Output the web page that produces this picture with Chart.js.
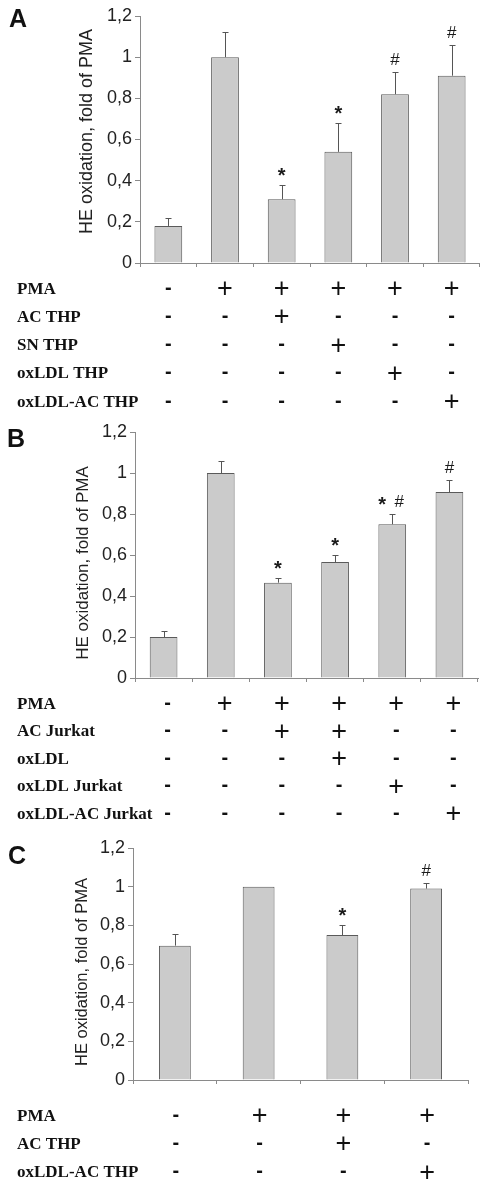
<!DOCTYPE html>
<html>
<head>
<meta charset="utf-8">
<script src="https://cdn.jsdelivr.net/npm/chart.js@4.4.1/dist/chart.umd.min.js"></script>
<style>
  html, body { margin: 0; padding: 0; background: #fff; }
  .panel { position: absolute; left: 0; width: 480px; }
</style>
</head>
<body>
<div class="panel" style="top:0;height:415px"><canvas id="chartA"></canvas></div>
<div class="panel" style="top:415px;height:413px"><canvas id="chartB"></canvas></div>
<div class="panel" style="top:828px;height:356px"><canvas id="chartC"></canvas></div>
<script>
// y ticks shared by all three panels
const yTickLabels = ['0', '0,2', '0,4', '0,6', '0,8', '1', '1,2'];
const yTitle = 'HE oxidation, fold of PMA';

// Panel A
const categoriesA = ['control', 'PMA', 'PMA + AC THP', 'PMA + SN THP', 'PMA + oxLDL THP', 'PMA + oxLDL-AC THP'];
const valuesA = [0.18, 1.00, 0.31, 0.54, 0.82, 0.91];
const errorsA = [0.04, 0.12, 0.07, 0.14, 0.11, 0.15];
const marksA = ['', '', '*', '*', '#', '#'];
const rowNamesA = ['PMA', 'AC THP', 'SN THP', 'oxLDL THP', 'oxLDL-AC THP'];
const signsA = ['-+++++', '--+---', '---+--', '----+-', '-----+'];

// Panel B
const categoriesB = ['control', 'PMA', 'PMA + AC Jurkat', 'PMA + AC Jurkat + oxLDL', 'PMA + oxLDL Jurkat', 'PMA + oxLDL-AC Jurkat'];
const valuesB = [0.20, 1.00, 0.465, 0.566, 0.75, 0.907];
const errorsB = [0.03, 0.06, 0.025, 0.034, 0.05, 0.06];
const marksB = ['', '', '*', '*', '* #', '#'];
const rowNamesB = ['PMA', 'AC Jurkat', 'oxLDL', 'oxLDL Jurkat', 'oxLDL-AC Jurkat'];
const signsB = ['-+++++', '--++--', '---+--', '----+-', '-----+'];

// Panel C
const categoriesC = ['control', 'PMA', 'PMA + AC THP', 'PMA + oxLDL-AC THP'];
const valuesC = [0.695, 1.00, 0.75, 0.99];
const errorsC = [0.06, 0, 0.05, 0.03];
const marksC = ['', '', '*', '#'];
const rowNamesC = ['PMA', 'AC THP', 'oxLDL-AC THP'];
const signsC = ['-+++', '--+-', '---+'];

const SANS = '"Liberation Sans", Arial, sans-serif';
const SERIF = '"Liberation Serif", "Times New Roman", serif';
const AXIS = '#8a8a8a';

// draw text so that its visible glyphs are centred on (x, yc)
function fillCentered(ctx, s, x, yc) {
  const m = ctx.measureText(s);
  ctx.fillText(s, x, yc + (m.actualBoundingBoxAscent - m.actualBoundingBoxDescent) / 2);
}

function extrasPlugin(p) {
  return {
    id: 'extras',
    afterDatasetsDraw(chart) {
      const ctx = chart.ctx;
      const xs = chart.scales.x, ys = chart.scales.y;
      const bars = chart.getDatasetMeta(0).data;
      ctx.save();

      // error bars (upper whisker only) and significance marks
      ctx.strokeStyle = '#555';
      ctx.lineWidth = 1;
      ctx.fillStyle = '#1a1a1a';
      ctx.textAlign = 'center';
      bars.forEach((bar, i) => {
        const bx = Math.round(bar.x) + 0.5;
        const top = Math.round(ys.getPixelForValue(p.values[i] + p.errors[i])) + 0.5;
        if (p.errors[i] > 0) {
          ctx.beginPath();
          ctx.moveTo(bx, bar.y);
          ctx.lineTo(bx, top);
          ctx.moveTo(bx - 3, top);
          ctx.lineTo(bx + 3, top);
          ctx.stroke();
        }
        const tokens = p.marks[i] ? p.marks[i].split(' ') : [];
        tokens.forEach((t, k) => {
          const dx = tokens.length > 1 ? (k === 0 ? -10 : 7) : 0;
          ctx.font = t === '*' ? 'bold 20px ' + SANS : '17px ' + SANS;
          fillCentered(ctx, t, bar.x + dx, top - 13.5);
        });
      });

      // treatment table under the x axis
      ctx.fillStyle = '#111';
      p.rowNames.forEach((name, r) => {
        const yc = chart.chartArea.bottom + p.rowStart + r * p.rowStep;
        ctx.textAlign = 'left';
        ctx.font = 'bold 17px ' + SERIF;
        const cap = ctx.measureText('H').actualBoundingBoxAscent;
        ctx.fillText(name, 17, yc + cap / 2);
        ctx.textAlign = 'center';
        p.signs[r].split('').forEach((s, i) => {
          ctx.font = s === '+' ? '27px ' + SANS : 'bold 20px ' + SANS;
          fillCentered(ctx, s, xs.getPixelForValue(i) + p.tableDx, yc);
        });
      });

      // rotated y title
      ctx.save();
      ctx.translate(p.titleX, p.titleY);
      ctx.rotate(-Math.PI / 2);
      ctx.font = p.titleSize + 'px ' + SANS;
      ctx.fillStyle = '#222';
      ctx.textAlign = 'center';
      ctx.textBaseline = 'alphabetic';
      ctx.fillText(yTitle, 0, 0);
      ctx.restore();

      // panel letter
      ctx.font = 'bold 25px ' + SANS;
      ctx.textAlign = 'left';
      ctx.fillStyle = '#111';
      ctx.fillText(p.letter, p.letterX, p.letterY);
      ctx.restore();
    }
  };
}

function makePanel(id, p) {
  new Chart(document.getElementById(id), {
    type: 'bar',
    data: {
      labels: p.categories,
      datasets: [{
        data: p.values,
        backgroundColor: '#cbcbcb',
        borderColor: '#5a5a5a',
        borderWidth: 1,
        categoryPercentage: 1,
        barPercentage: p.barPct
      }]
    },
    options: {
      responsive: true,
      maintainAspectRatio: false,
      animation: false,
      layout: { padding: { top: p.top, right: p.right, left: 0, bottom: 0 } },
      plugins: { legend: { display: false }, tooltip: { enabled: false } },
      scales: {
        x: {
          grid: { drawOnChartArea: false, drawTicks: true, tickLength: 4, color: AXIS, offset: true },
          border: { color: AXIS },
          ticks: { display: false },
          afterFit: s => { s.height = p.xHeight; }
        },
        y: {
          min: 0,
          max: 1.2,
          ticks: {
            stepSize: 0.2,
            padding: 3,
            color: '#222',
            font: { family: SANS, size: 18 },
            callback: (v, i) => yTickLabels[i]
          },
          grid: { drawOnChartArea: false, tickLength: 5, color: AXIS },
          border: { color: AXIS },
          afterFit: s => { s.width = p.yWidth; }
        }
      }
    },
    plugins: [extrasPlugin(p)]
  });
}

makePanel('chartA', {
  categories: categoriesA, values: valuesA, errors: errorsA, marks: marksA,
  rowNames: rowNamesA, signs: signsA,
  top: 16, right: 0, yWidth: 140, xHeight: 152, barPct: 0.49,
  rowStart: 25, rowStep: 28.3, tableDx: 0,
  titleX: 92, titleY: 131.5, titleSize: 18,
  letter: 'A', letterX: 9, letterY: 27
});

makePanel('chartB', {
  categories: categoriesB, values: valuesB, errors: errorsB, marks: marksB,
  rowNames: rowNamesB, signs: signsB,
  top: 17, right: 2, yWidth: 135, xHeight: 150, barPct: 0.485,
  rowStart: 25, rowStep: 27.5, tableDx: 4,
  titleX: 87.5, titleY: 148, titleSize: 17,
  letter: 'B', letterX: 7, letterY: 32
});

makePanel('chartC', {
  categories: categoriesC, values: valuesC, errors: errorsC, marks: marksC,
  rowNames: rowNamesC, signs: signsC,
  top: 20, right: 12, yWidth: 133, xHeight: 104, barPct: 0.38,
  rowStart: 35, rowStep: 28.3, tableDx: 1,
  titleX: 87, titleY: 144, titleSize: 16.5,
  letter: 'C', letterX: 8, letterY: 36
});
</script>
</body>
</html>
